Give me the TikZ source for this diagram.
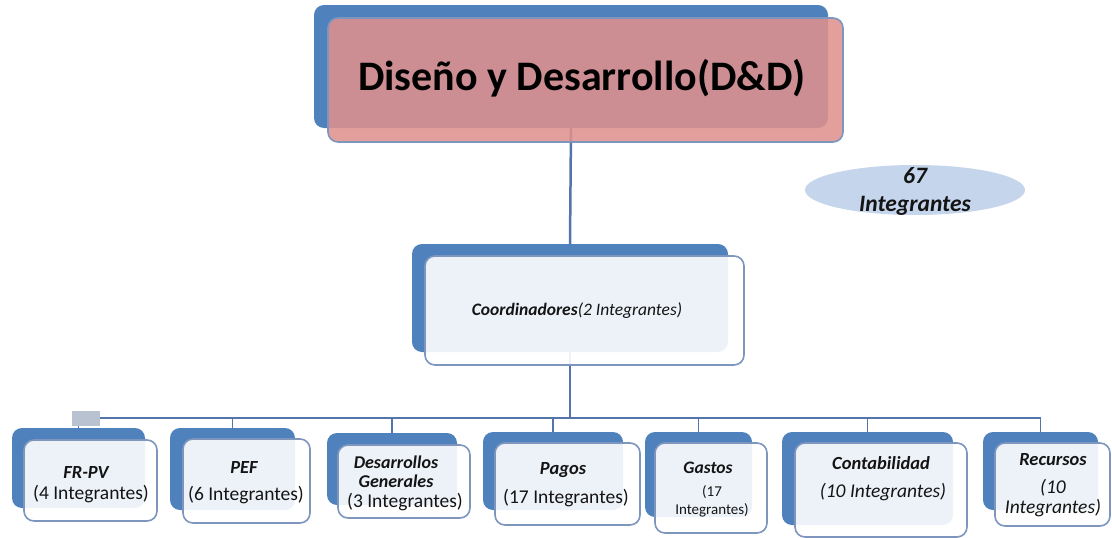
\documentclass[tikz,border=0pt]{standalone}
\usepackage{fontspec}
\setmainfont{Carlito}
\usetikzlibrary{shapes.geometric}
\definecolor{backblue}{RGB}{79,129,189}
\definecolor{edgeblue}{RGB}{126,150,190}
\definecolor{linkblue}{RGB}{84,116,170}
\definecolor{rosefill}{RGB}{223,145,141}
\definecolor{ovalfill}{RGB}{197,213,236}
\definecolor{handlegray}{RGB}{184,194,208}
\definecolor{txt}{RGB}{20,20,20}
\tikzset{
  backbox/.style={rectangle, rounded corners=10pt, fill=backblue, inner sep=0pt},
  frontbox/.style={rectangle, rounded corners=10pt, draw=edgeblue, line width=1.6pt,
                   fill=white, fill opacity=0.9, inner sep=0pt},
  rosebox/.style={frontbox, fill=rosefill, fill opacity=0.87},
  conn/.style={draw=linkblue, line width=2.5pt},
  bus/.style={draw=linkblue, line width=1.6pt},
  txtlabel/.style={text=txt, align=center, inner sep=0pt},
  teamname/.style={txtlabel, font=\bfseries\itshape\fontsize{18.5}{20}\selectfont},
  teamcount/.style={txtlabel, font=\fontsize{19.5}{20}\selectfont},
}
\begin{document}
\begin{tikzpicture}[x=1pt,y=-1pt]
\useasboundingbox[fill=white] (0,0) rectangle (1112,538);

% back plates
\node[backbox, minimum width=514pt, minimum height=123pt] (topback) at (571,66.5) {};
\node[backbox, minimum width=316pt, minimum height=108pt] (coordback) at (570,298) {};
\node[backbox, minimum width=133pt, minimum height=80pt] (frb) at (78.5,468) {};
\node[backbox, minimum width=125pt, minimum height=82pt] (pefb) at (232.5,469) {};
\node[backbox, minimum width=130pt, minimum height=72pt] (desb) at (392,469) {};
\node[backbox, minimum width=140pt, minimum height=78pt] (pagb) at (553,471) {};
\node[backbox, minimum width=107pt, minimum height=85pt] (gasb) at (698.5,474.5) {};
\node[backbox, minimum width=171pt, minimum height=93pt] (conb) at (867.5,478.5) {};
\node[backbox, minimum width=115pt, minimum height=78pt] (recb) at (1040.5,471) {};

% connectors
\coordinate (busL) at (78.5,418);
\coordinate (busR) at (1040.5,418);
\draw[conn] (topback.south) -- (coordback.north);
\draw[conn] (coordback.south) -- (coordback.south |- busL);
\draw[bus] (busL) -- (busR);
\foreach \n in {frb,pefb,desb,pagb,gasb,conb,recb}
  \draw[bus] (\n.north |- busL) -- (\n.north);
\node[rectangle, fill=handlegray, minimum width=28pt, minimum height=15pt, inner sep=0pt] (handle) at (86,418.5) {};

% front plates
\node[rosebox, minimum width=515pt, minimum height=124pt] (top) at (585.5,80) {};
\node[frontbox, minimum width=319pt, minimum height=109pt] (coord) at (584.5,310.5) {};
\node[frontbox, minimum width=133pt, minimum height=81pt] (fr) at (90.5,480.5) {};
\node[frontbox, minimum width=127pt, minimum height=84pt] (pef) at (246.5,481) {};
\node[frontbox, minimum width=132pt, minimum height=73pt] (des) at (404,481.5) {};
\node[frontbox, minimum width=145pt, minimum height=82pt] (pag) at (567.5,484) {};
\node[frontbox, minimum width=112pt, minimum height=90pt] (gas) at (711,488) {};
\node[frontbox, minimum width=172pt, minimum height=94pt] (con) at (881,490) {};
\node[frontbox, minimum width=115pt, minimum height=83pt] (rec) at (1052.5,484.5) {};

% title
\node[txtlabel, text=black, font=\bfseries\fontsize{42}{44}\selectfont] (title) at (582,78) {Diseño y Desarrollo(D\&D)};

% total members
\node[ellipse, fill=ovalfill, minimum width=220pt, minimum height=50pt, inner sep=0pt] (total) at (915,190) {};
\node[txtlabel, font=\bfseries\itshape\fontsize{23.5}{28}\selectfont] (totaltxt) at (915,191) {67\\Integrantes};

% coordinators
\node[txtlabel, font=\fontsize{17.5}{20}\selectfont] (coordtxt) at (577,311) {\textbf{\textit{Coordinadores}}\textit{(2 Integrantes)}};

% teams
\node[teamname] (frname) at (86,472) {FR-PV};
\node[teamcount] (frcount) at (91,494) {(4 Integrantes)};
\node[teamname] (pefname) at (244,467) {PEF};
\node[teamcount] (pefcount) at (246,495) {(6 Integrantes)};
\node[teamname, font=\bfseries\itshape\fontsize{18}{19.5}\selectfont] (desname) at (396,471.5) {Desarrollos\\Generales};
\node[teamcount] (descount) at (405,502) {(3 Integrantes)};
\node[teamname] (pagname) at (563,470) {Pagos};
\node[teamcount] (pagcount) at (566,498) {(17 Integrantes)};
\node[teamname, font=\bfseries\itshape\fontsize{17.5}{19}\selectfont] (gasname) at (708,468) {Gastos};
\node[teamcount, font=\fontsize{15}{18}\selectfont] (gascount) at (712,501) {(17\\Integrantes)};
\node[teamname] (conname) at (881,463) {Contabilidad};
\node[teamcount, font=\itshape\fontsize{19.5}{20}\selectfont] (concount) at (883,492) {(10 Integrantes)};
\node[teamname] (recname) at (1053,460) {Recursos};
\node[teamcount, font=\itshape\fontsize{19.5}{20}\selectfont] (reccount) at (1053,498) {(10\\Integrantes)};
\end{tikzpicture}
\end{document}
